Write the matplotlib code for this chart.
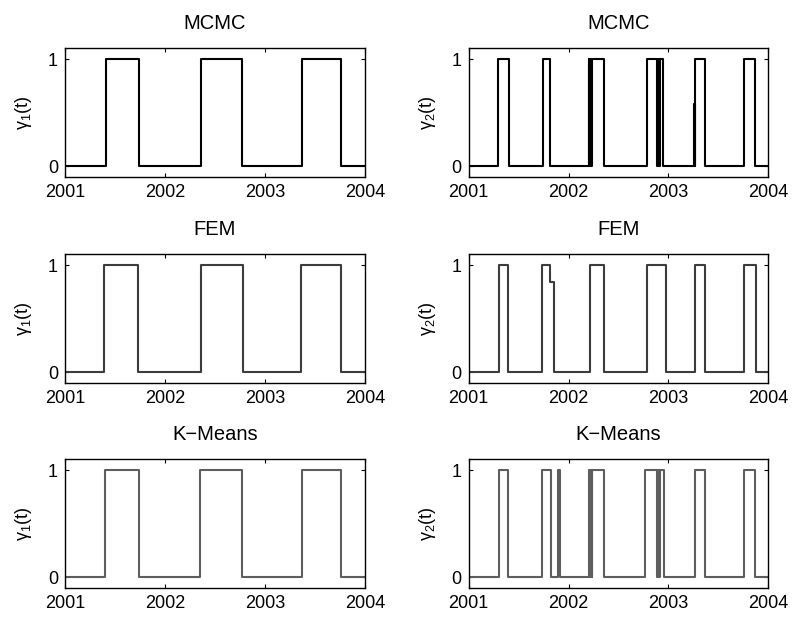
import numpy as np
import matplotlib.pyplot as plt

plt.rcParams['font.family'] = ['Liberation Sans', 'DejaVu Sans']
plt.rcParams['mathtext.fontset'] = 'custom'
plt.rcParams['mathtext.rm'] = 'Liberation Sans'
plt.rcParams['mathtext.it'] = 'Liberation Sans'

# switch times (years) and the level held from that time on
t_mcmc_1 = [2001.0, 2001.41, 2001.74, 2002.36, 2002.77, 2003.37, 2003.76, 2004.0]
g_mcmc_1 = [0, 1, 0, 1, 0, 1, 0, 0]

t_mcmc_2 = [2001.0, 2001.29, 2001.40, 2001.74, 2001.81,
            2002.200, 2002.207, 2002.212, 2002.222, 2002.232, 2002.35,
            2002.78, 2002.885, 2002.895, 2002.905, 2002.915, 2002.925, 2002.945,
            2003.255, 2003.262, 2003.27, 2003.37, 2003.76, 2003.87, 2004.0]
g_mcmc_2 = [0, 1, 0, 1, 0,
            1, 0, 1, 0, 1, 0,
            1, 0, 1, 0, 1, 1, 0,
            0.58, 0, 1, 0, 1, 0, 0]

t_fem_1 = [2001.0, 2001.39, 2001.73, 2002.36, 2002.78, 2003.36, 2003.76, 2004.0]
g_fem_1 = [0, 1, 0, 1, 0, 1, 0, 0]

t_fem_2 = [2001.0, 2001.30, 2001.39, 2001.73, 2001.81, 2001.85, 2002.21, 2002.35,
           2002.78, 2002.97, 2003.27, 2003.37, 2003.76, 2003.88, 2004.0]
g_fem_2 = [0, 1, 0, 1, 0.84, 0, 1, 0, 1, 0, 1, 0, 1, 0, 0]

t_km_1 = [2001.0, 2001.40, 2001.74, 2002.35, 2002.77, 2003.37, 2003.76, 2004.0]
g_km_1 = [0, 1, 0, 1, 0, 1, 0, 0]

t_km_2 = [2001.0, 2001.30, 2001.39, 2001.737, 2001.827, 2001.895, 2001.915,
          2002.203, 2002.213, 2002.22, 2002.23, 2002.237, 2002.35,
          2002.767, 2002.888, 2002.898, 2002.908, 2002.918, 2002.953,
          2003.27, 2003.37, 2003.76, 2003.87, 2004.0]
g_km_2 = [0, 1, 0, 1, 0, 1, 0,
          1, 0, 1, 0, 1, 0,
          1, 0, 1, 0, 1, 0,
          1, 0, 1, 0, 0]

titles = ['MCMC', 'FEM', 'K\u2212Means']
colors = ['black', '#3c3c3c', '#5e5e5e']
panels = [[(t_mcmc_1, g_mcmc_1), (t_mcmc_2, g_mcmc_2)],
          [(t_fem_1, g_fem_1), (t_fem_2, g_fem_2)],
          [(t_km_1, g_km_1), (t_km_2, g_km_2)]]

fig = plt.figure(figsize=(7.93, 6.19), dpi=100)
lefts = [0.082, 0.591]
bottoms = [0.714, 0.381, 0.050]
for r in range(3):
    for c in range(2):
        ax = fig.add_axes([lefts[c], bottoms[r], 0.378, 0.208])
        t, g = panels[r][c]
        ax.plot(t, g, drawstyle='steps-post', color=colors[r], lw=1.5)
        ax.set_xlim(2001, 2004)
        ax.set_ylim(-0.1, 1.1)
        ax.set_xticks([2001, 2002, 2003, 2004])
        ax.set_yticks([0, 1])
        ax.tick_params(direction='in', top=True, right=True, length=3,
                       labelsize=13, width=0.8, pad=5)
        for s in ax.spines.values():
            s.set_linewidth(1.0)
        ax.set_title(titles[r], fontsize=14.5, pad=14)
        ax.set_ylabel(r'$\gamma_%d$(t)' % (c + 1), fontsize=13, labelpad=10)

fig.savefig('out.png', dpi=100)
